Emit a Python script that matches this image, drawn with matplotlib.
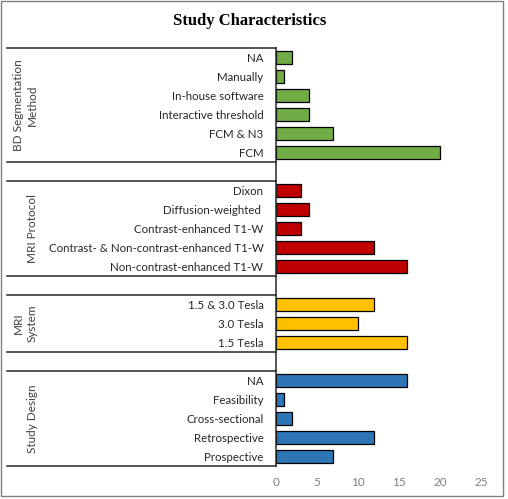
import matplotlib.pyplot as plt
import matplotlib.transforms as mtransforms
from matplotlib.patches import Rectangle
from matplotlib.lines import Line2D

# data, listed top to bottom within each group
design_labels = ["BD Segmentation\nMethod", "MRI Protocol", "MRI\nSystem", "Study Design"]
seg_labels = ["NA", "Manually", "In-house software", "Interactive threshold", "FCM & N3", "FCM"]
seg_values = [2, 1, 4, 4, 7, 20]
protocol_labels = ["Dixon", "Diffusion-weighted ", "Contrast-enhanced T1-W",
                   "Contrast- & Non-contrast-enhanced T1-W", "Non-contrast-enhanced T1-W"]
protocol_values = [3, 4, 3, 12, 16]
system_labels = ["1.5 & 3.0 Tesla", "3.0 Tesla", "1.5 Tesla"]
system_values = [12, 10, 16]
study_labels = ["NA", "Feasibility", "Cross-sectional", "Retrospective", "Prospective"]
study_values = [16, 1, 2, 12, 7]
group_colors = ["#70AD47", "#C00000", "#FFC000", "#2E75B6"]
x_ticks = [0, 5, 10, 15, 20, 25]

groups = [(seg_labels, seg_values), (protocol_labels, protocol_values),
          (system_labels, system_values), (study_labels, study_values)]

plt.rcParams['font.family'] = ['Lato', 'DejaVu Sans']

fig = plt.figure(figsize=(5.08, 4.99), dpi=100)
ax = fig.add_axes([0.5433, 0.0661, 0.4035, 0.8377])

trans = mtransforms.blended_transform_factory(fig.transFigure, ax.transData)

row = 0
all_pos, all_labels = [], []
for i, (labels, values) in enumerate(groups):
    pos = list(range(row, row + len(labels)))
    ax.barh(pos, values, height=0.68, color=group_colors[i],
            edgecolor="black", linewidth=0.9)
    all_pos += pos
    all_labels += labels
    top, bottom = row - 0.5, row + len(labels) - 0.5
    for yy in (top, bottom):
        ax.add_line(Line2D([0.014, 0.5433], [yy, yy], transform=trans,
                           color="#262626", linewidth=1.1, clip_on=False))
    ax.text(0.075, (top + bottom) / 2, design_labels[i], transform=trans,
            rotation=90, ha="right", va="center", multialignment="center",
            fontsize=8.5, color="#404040", linespacing=1.35)
    row += len(labels) + 1

ax.set_ylim(row - 1.5, -0.5)
ax.set_xlim(0, 25)
ax.set_yticks(all_pos)
ax.set_yticklabels(all_labels, fontsize=8.3, color="#262626")
ax.set_xticks(x_ticks)
ax.set_xticklabels([str(t) for t in x_ticks], fontsize=8.5, color="#7f7f7f")
ax.tick_params(axis="y", length=0, pad=9)
ax.tick_params(axis="x", length=0, pad=8)
for s in ("top", "right", "bottom"):
    ax.spines[s].set_visible(False)
ax.spines["left"].set_color("#262626")
ax.spines["left"].set_linewidth(1.1)

fig.text(0.492, 0.958, "Study Characteristics", ha="center", va="center",
         fontsize=12, fontweight="bold", family="Liberation Serif")

fig.patches.append(Rectangle((0.002, 0.006), 0.988, 0.992, transform=fig.transFigure,
                             fill=False, edgecolor="#808080", linewidth=1))

fig.savefig("out.png", dpi=100)
